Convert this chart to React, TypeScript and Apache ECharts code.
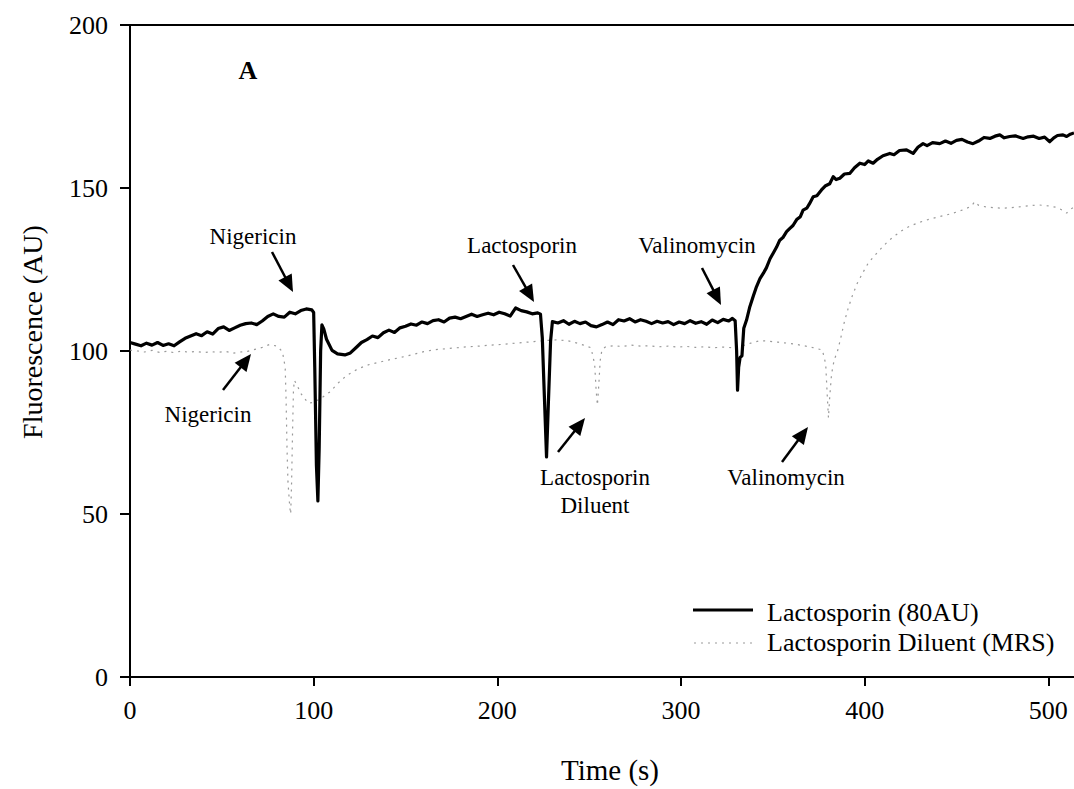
import React, { useEffect, useRef } from "react";
import * as echarts from "echarts";

// ---- Data ----
const seriesNames = ["Lactosporin (80AU)", "Lactosporin Diluent (MRS)"];

const solidTime = [
  0, 3, 6, 9, 12, 15, 18, 21, 24, 27, 30, 33, 36, 39, 42, 45, 48, 51, 54, 57,
  60, 63, 66, 69, 72, 75, 78, 81, 84, 87, 90, 93, 96, 99, 100, 100.6, 101.5, 102.3, 103, 103.8,
  104.5, 105.5, 107, 110, 113, 117, 120, 123, 126, 129, 132, 135, 138, 141, 144, 147, 150, 153, 156, 159,
  162, 165, 168, 171, 174, 177, 180, 183, 186, 189, 192, 195, 198, 201, 204, 207, 210, 213, 216, 219,
  222, 223.5, 224.5, 225.5, 226.8, 227.8, 229, 230, 233, 236, 239, 242, 245, 248, 251, 254, 257, 260, 263, 266,
  269, 272, 275, 278, 281, 284, 287, 290, 293, 296, 299, 302, 305, 308, 311, 314, 317, 320, 323, 326,
  328, 329.5, 330.3, 330.8, 331.4, 332.2, 333.2, 334.2, 335.7, 337.5, 339.3, 341.1, 343, 344.8, 346.5, 348.5, 350.2, 352, 353.8, 355.5,
  357.5, 359.3, 361, 363, 365, 366.5, 368.5, 370, 372, 374, 376.5, 378.5, 381, 382.9, 384.5, 386.5, 389, 392, 394.5, 397.4,
  400, 402, 404.6, 407, 410, 413.7, 416, 419, 422.8, 426.4, 429, 431.8, 434, 437, 440.9, 444, 447, 450, 453, 456,
  459, 462, 465, 468.2, 471, 473.6, 476, 479, 482, 486.3, 489, 492, 495, 498, 500.8, 503, 505, 508, 510, 512,
  514,
];
const solidValues = [
  102.6, 102.1, 101.6, 102.4, 101.8, 102.6, 101.7, 102.2, 101.6, 102.8, 103.9, 104.6, 105.3, 104.7, 105.9, 105.2, 106.9, 107.4, 106.3, 107.1,
  107.9, 108.4, 108.6, 108.1, 109.2, 110.6, 111.4, 110.6, 110.4, 111.9, 111.4, 112.4, 112.9, 112.6, 111.8, 95, 65, 54, 70, 100,
  108, 106.8, 103.6, 100.2, 99.1, 98.8, 99.4, 101, 102.6, 103.5, 104.6, 104.1, 105.6, 106.4, 105.7, 107.1, 107.6, 108.3, 107.9, 108.9,
  108.4, 109.3, 109.6, 108.9, 110.1, 110.4, 109.9, 110.6, 111.3, 110.6, 111.1, 111.6, 111.1, 111.9, 111.4, 110.7, 113.2, 112.4, 112, 111.4,
  111.7, 111.3, 104, 88, 67.5, 84, 103, 109, 108.6, 109.3, 108.2, 109.1, 108.4, 108.9, 107.8, 107.4, 108.1, 108.9, 108.1, 109.6,
  109.2, 109.9, 108.9, 109.6, 109.1, 108.4, 109.1, 108.6, 109, 108.1, 108.9, 108.4, 109.3, 108.5, 109, 108.2, 109.5, 108.7, 109.7, 109.2,
  110, 109.3, 100, 88, 95, 98, 98.5, 107, 109.5, 113.6, 116.7, 119.7, 122.2, 123.8, 125.5, 128.3, 130, 131.8, 134, 134.8,
  136.6, 137.6, 138.5, 140.3, 141.2, 143.2, 143.8, 145.2, 147.3, 147.6, 149.4, 150.6, 151.3, 153.5, 152.6, 153, 154.3, 154.5, 156.2, 157.6,
  157.2, 158.3, 157.6, 158.8, 159.9, 160.6, 160.2, 161.5, 161.7, 160.6, 162.5, 163.6, 163, 163.9, 163.6, 164.4, 163.7, 164.6, 164.9, 164.1,
  163.6, 164.4, 165.5, 165.2, 165.9, 166.3, 165.4, 165.8, 166, 165.2, 165.7, 165.9, 165.2, 165.6, 164.2, 165.4, 166.1, 166.3, 165.8, 166.5,
  166.9,
];

const diluentTime = [
  0, 4, 8, 12, 16, 20, 24, 28, 32, 36, 40, 44, 48, 52, 56, 60, 64, 68, 72, 76,
  80, 83, 84.5, 85, 85.5, 86, 87, 87.5, 88, 88.5, 89, 89.5, 91, 93, 95, 97, 100, 104, 109, 113,
  118, 124, 130, 136, 142, 148, 154, 160, 166, 172, 178, 184, 190, 196, 202, 208, 214, 220, 226, 232,
  238, 243, 247, 251, 253, 253.8, 254.5, 255.3, 256, 257, 259, 263, 268, 273, 278, 283, 288, 293, 298, 303,
  308, 313, 318, 323, 328, 333, 338, 343, 348, 353, 358, 363, 368, 373, 377, 378.8, 379.5, 380.3, 381, 382,
  383.5, 385, 387, 389, 391, 393, 396, 399, 402, 405, 409, 413, 417, 421, 425, 430, 435, 440, 445, 450,
  455, 458, 460, 462, 466, 470, 475, 480, 485, 490, 495, 500, 505, 508, 510, 512, 514,
];
const diluentValues = [
  100.3, 100, 99.7, 100.2, 99.6, 99.9, 99.5, 100, 99.6, 99.9, 99.5, 99.8, 99.6, 99.9, 99.3, 99.7, 99.9, 100.5, 101.1, 102,
  101.5, 99.8, 95, 85, 70, 60, 52, 50, 60, 75, 88, 91, 89.5, 87, 85.5, 84, 84.2, 85.5, 87.5, 90,
  92.5, 94.5, 95.8, 96.6, 97.4, 98.1, 98.9, 99.8, 100.4, 100.7, 101, 101.3, 101.5, 101.8, 102, 102.3, 102.6, 102.9, 103.2, 103.4,
  103.2, 102.5, 101.8, 101, 96, 88, 83.4, 90, 97, 100.5, 101.3, 101.6, 101.4, 101.8, 101.5, 101.6, 101.3, 101.5, 101.2, 101.4,
  101.1, 101.3, 101, 101.2, 101, 101.5, 102.4, 103.2, 103, 102.7, 102.4, 102, 101.5, 100.9, 100.3, 96, 88, 79.5, 86, 93,
  97.5, 99.4, 104, 109, 113, 116.5, 120.8, 124, 127, 129, 131.5, 133.8, 135.6, 137.2, 138.4, 139.5, 140.4, 141.1, 141.8, 142.6,
  143.6, 144.4, 145.8, 144.7, 144.2, 144, 143.8, 144, 144.3, 144.6, 144.8, 144.5, 144, 143.1, 142.3, 143.4, 144.2,
];

const xTicks = [0, 100, 200, 300, 400, 500];
const yTicks = [0, 50, 100, 150, 200];

const xTitle = "Time (s)";
const yTitle = "Fluorescence (AU)";
const panelLabel = "A";

// Annotation layout (pixel positions of labels and arrows)
const annotations = [
  { lines: ["Nigericin"], x: 253, y: 236, from: [272, 252], to: [293, 292] },
  { lines: ["Nigericin"], x: 208, y: 414, from: [223, 390], to: [251, 354] },
  { lines: ["Lactosporin"], x: 522, y: 245, from: [513, 265], to: [534, 302] },
  { lines: ["Lactosporin", "Diluent"], x: 595, y: 477, from: [558, 452], to: [585, 418] },
  { lines: ["Valinomycin"], x: 697, y: 245, from: [702, 268], to: [721, 305] },
  { lines: ["Valinomycin"], x: 786, y: 477, from: [782, 462], to: [808, 427] },
];

const FONT = "'Liberation Serif', 'Times New Roman', serif";

const SOLID_STYLE = { color: "#000", width: 3.2 };
const DOTTED_STYLE = { color: "#999999", width: 1.2, dash: [2, 5] };

function arrow(from: number[], to: number[]) {
  const [x1, y1] = from;
  const [x2, y2] = to;
  const a = Math.atan2(y2 - y1, x2 - x1);
  const L = 17;
  const W = 7.5;
  const bx = x2 - L * Math.cos(a);
  const by = y2 - L * Math.sin(a);
  return [
    {
      type: "line",
      shape: { x1, y1, x2: bx + Math.cos(a) * 2, y2: by + Math.sin(a) * 2 },
      style: { stroke: "#000", lineWidth: 2.5 },
      silent: true,
    },
    {
      type: "polygon",
      shape: {
        points: [
          [x2, y2],
          [bx + W * Math.sin(a), by - W * Math.cos(a)],
          [bx - W * Math.sin(a), by + W * Math.cos(a)],
        ],
      },
      style: { fill: "#000" },
      silent: true,
    },
  ];
}

export default function App() {
  const ref = useRef<HTMLDivElement>(null);

  useEffect(() => {
    if (!ref.current) return;
    const chart = echarts.init(ref.current, undefined, { renderer: "svg" });

    const graphics: any[] = [];
    annotations.forEach((an) => {
      an.lines.forEach((line, i) => {
        graphics.push({
          type: "text",
          x: an.x,
          y: an.y + i * 28,
          style: {
            text: line,
            fontFamily: FONT,
            fontSize: 23,
            fill: "#000",
            textAlign: "center",
            textVerticalAlign: "middle",
          },
          silent: true,
        });
      });
      graphics.push(...arrow(an.from, an.to));
    });
    graphics.push({
      type: "text",
      x: 248,
      y: 70,
      style: {
        text: panelLabel,
        fontFamily: FONT,
        fontSize: 26,
        fontWeight: "bold",
        fill: "#000",
        textAlign: "center",
        textVerticalAlign: "middle",
      },
    });
    graphics.push({
      type: "text",
      x: 610,
      y: 770,
      style: {
        text: xTitle,
        fontFamily: FONT,
        fontSize: 29,
        fill: "#000",
        textAlign: "center",
        textVerticalAlign: "middle",
      },
    });
    graphics.push({
      type: "text",
      x: 32,
      y: 332,
      rotation: Math.PI / 2,
      style: {
        text: yTitle,
        fontFamily: FONT,
        fontSize: 28,
        fill: "#000",
        textAlign: "center",
        textVerticalAlign: "middle",
      },
    });
    // legend keys (line samples) next to the legend texts
    graphics.push({
      type: "line",
      shape: { x1: 693, y1: 610, x2: 753, y2: 610 },
      style: { stroke: SOLID_STYLE.color, lineWidth: SOLID_STYLE.width },
      silent: true,
    });
    graphics.push({
      type: "line",
      shape: { x1: 694, y1: 643, x2: 753, y2: 643 },
      style: { stroke: DOTTED_STYLE.color, lineWidth: DOTTED_STYLE.width, lineDash: DOTTED_STYLE.dash },
      silent: true,
    });

    const axisLabelStyle = {
      fontFamily: FONT,
      fontSize: 26,
      color: "#000",
    };

    chart.setOption({
      animation: false,
      backgroundColor: "#fff",
      grid: { left: 130, right: 0, top: 25, bottom: 112, containLabel: false },
      legend: {
        orient: "vertical",
        left: 693,
        top: 594,
        itemWidth: 60,
        itemHeight: 14,
        itemGap: 4,
        icon: "none",
        data: seriesNames.map((name) => ({ name, icon: "none" })),
        textStyle: { ...axisLabelStyle, padding: [0, 0, 0, 4] },
      },
      xAxis: [
        {
          type: "value",
          min: 0,
          max: 514,
          interval: 100,
          axisLine: { show: true, onZero: false, lineStyle: { color: "#000", width: 2 } },
          axisTick: { show: true, length: 9, lineStyle: { color: "#000", width: 2 }, customValues: xTicks },
          axisLabel: { ...axisLabelStyle, margin: 20, customValues: xTicks },
          splitLine: { show: false },
        },
        {
          type: "value",
          position: "top",
          min: 0,
          max: 514,
          axisLine: { show: true, onZero: false, lineStyle: { color: "#000", width: 2 } },
          axisTick: { show: false },
          axisLabel: { show: false },
          splitLine: { show: false },
        },
      ],
      yAxis: {
        type: "value",
        min: 0,
        max: 200,
        interval: 50,
        axisLine: { show: true, onZero: false, lineStyle: { color: "#000", width: 2 } },
        axisTick: { show: true, length: 10, lineStyle: { color: "#000", width: 2 }, customValues: yTicks },
        axisLabel: { ...axisLabelStyle, margin: 22, customValues: yTicks },
        splitLine: { show: false },
      },
      series: [
        {
          name: seriesNames[1],
          type: "line",
          data: diluentTime.map((t, i) => [t, diluentValues[i]]),
          showSymbol: false,
          symbol: "none",
          z: 2,
          lineStyle: { color: DOTTED_STYLE.color, width: DOTTED_STYLE.width, type: DOTTED_STYLE.dash },
          itemStyle: { color: DOTTED_STYLE.color },
        },
        {
          name: seriesNames[0],
          type: "line",
          data: solidTime.map((t, i) => [t, solidValues[i]]),
          showSymbol: false,
          symbol: "none",
          z: 3,
          lineStyle: { color: SOLID_STYLE.color, width: SOLID_STYLE.width, join: "round" },
          itemStyle: { color: SOLID_STYLE.color },
        },
      ],
      graphic: graphics,
    });

    return () => chart.dispose();
  }, []);

  return (
    <div
      ref={ref}
      style={{ position: "absolute", left: 0, top: 0, width: 1074, height: 789, background: "#fff" }}
    />
  );
}
